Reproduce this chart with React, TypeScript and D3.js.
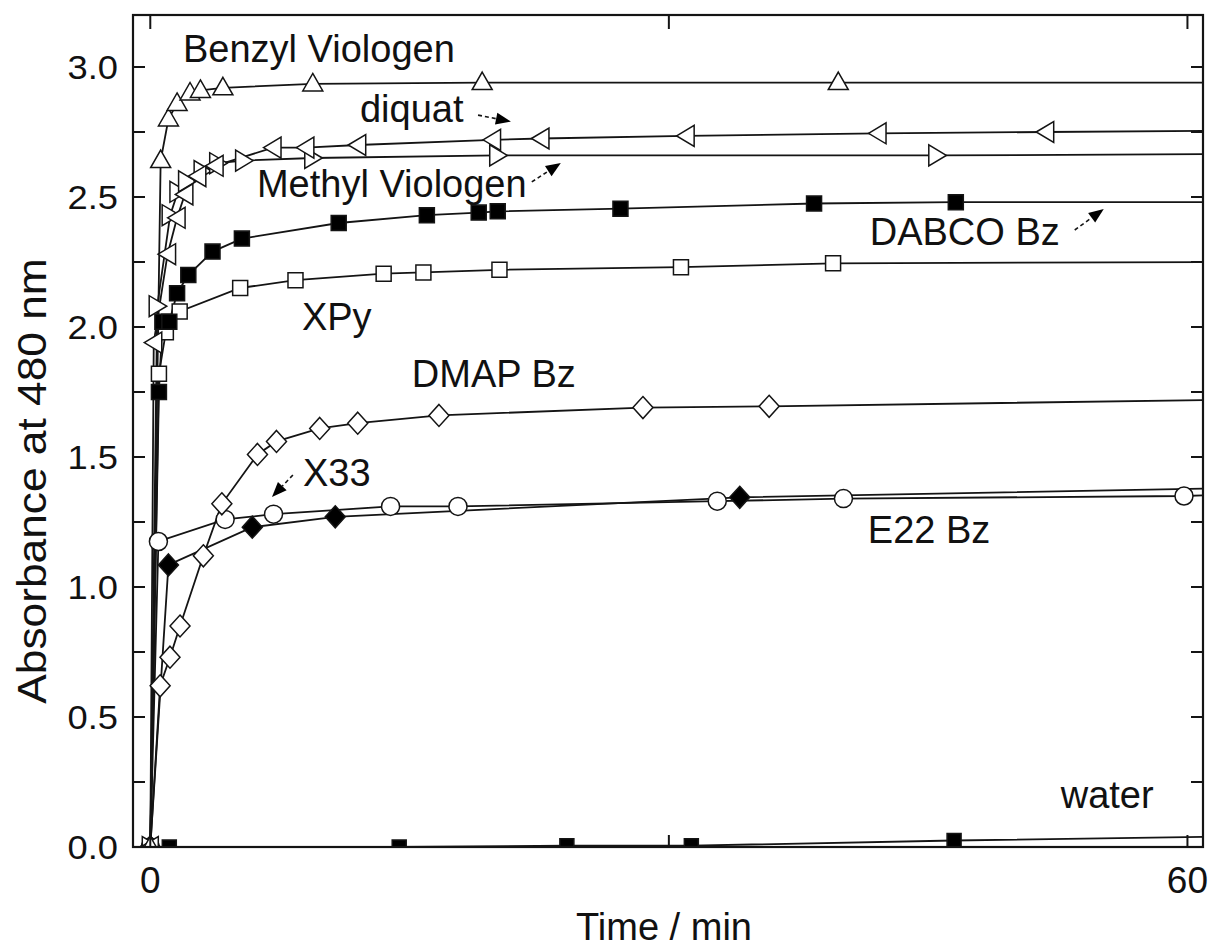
import React from 'react';
import * as d3 from 'd3';

const W = 1221;
const H = 952;

// ---- data (time in min, absorbance at 480 nm) ----
const benzylTime = [0, 0.6, 1.05, 1.55, 2.3, 2.9, 4.2, 9.4, 19.2, 39.8, 62];
const benzylAbs = [0, 2.64, 2.8, 2.86, 2.9, 2.91, 2.92, 2.935, 2.94, 2.94, 2.94];

const diquatTime = [0, 0.2, 1.0, 1.55, 2.0, 2.75, 3.75, 7.1, 9.0, 12.0, 19.8, 22.6, 31.0, 42.1, 51.8, 62];
const diquatAbs = [0, 1.94, 2.28, 2.42, 2.51, 2.58, 2.62, 2.69, 2.69, 2.7, 2.72, 2.725, 2.735, 2.745, 2.75, 2.755];

const methylTime = [0, 0.4, 1.15, 1.6, 2.1, 3.0, 3.9, 5.4, 9.4, 20.1, 45.5, 62];
const methylAbs = [0, 2.08, 2.43, 2.52, 2.56, 2.6, 2.63, 2.64, 2.65, 2.66, 2.66, 2.665];

const dabcoTime = [0, 0.5, 0.7, 1.1, 1.55, 2.2, 3.6, 5.3, 10.9, 16.0, 19.0, 20.1, 27.2, 38.4, 46.6, 62];
const dabcoAbs = [0, 1.75, 2.02, 2.02, 2.13, 2.2, 2.29, 2.34, 2.4, 2.43, 2.44, 2.445, 2.455, 2.475, 2.48, 2.48];

const xpyTime = [0, 0.5, 0.9, 1.7, 5.2, 8.4, 13.5, 15.8, 20.2, 30.7, 39.5, 62];
const xpyAbs = [0, 1.82, 1.98, 2.06, 2.15, 2.18, 2.205, 2.21, 2.22, 2.23, 2.245, 2.25];

const dmapTime = [0, 0.57, 1.14, 1.72, 3.07, 4.14, 6.2, 7.3, 9.8, 12.0, 16.7, 28.5, 35.8, 62];
const dmapAbs = [0, 0.62, 0.73, 0.85, 1.12, 1.32, 1.51, 1.56, 1.61, 1.63, 1.66, 1.69, 1.695, 1.72];

const x33Time = [0, 1.05, 5.9, 10.7, 34.1, 62];
const x33Abs = [0, 1.085, 1.23, 1.27, 1.345, 1.38];

const e22Time = [0, 0.47, 4.33, 7.13, 13.9, 17.8, 32.8, 40.1, 59.8, 62];
const e22Abs = [0, 1.175, 1.26, 1.28, 1.31, 1.31, 1.33, 1.34, 1.35, 1.355];

const waterTime = [0, 1.1, 14.4, 24.1, 31.3, 46.5, 62];
const waterAbs = [0, 0, 0, 0.005, 0.005, 0.025, 0.04];

// ---- axes ----
const yMajorTicks = [0, 0.5, 1.0, 1.5, 2.0, 2.5, 3.0];
const yTickLabels = ['0.0', '0.5', '1.0', '1.5', '2.0', '2.5', '3.0'];
const yMinorTicks = [0.25, 0.75, 1.25, 1.75, 2.25, 2.75];
const xTicks = [0, 30, 60];
const xTickLabels = ['0', '', '60'];
const xTitle = 'Time / min';
const yTitle = 'Absorbance at 480 nm';

// ---- annotations (data coordinates) ----
const labelTexts = ['Benzyl Viologen', 'diquat', 'Methyl Viologen', 'DABCO Bz', 'XPy', 'DMAP Bz', 'X33', 'E22 Bz', 'water'];
const labelTime = [1.89, 12.13, 6.17, 41.62, 8.77, 15.13, 8.83, 41.51, 52.67];
const labelAbs = [3.02, 2.79, 2.5, 2.315, 1.99, 1.77, 1.39, 1.17, 0.15];

const arrowFromTime = [18.96, 22.07, 53.48, 8.25];
const arrowFromAbs = [2.815, 2.558, 2.373, 1.431];
const arrowToTime = [20.86, 23.75, 55.16, 7.04];
const arrowToAbs = [2.79, 2.631, 2.454, 1.346];

type Marker = 'triUp' | 'triLeft' | 'triRight' | 'square' | 'squareSmall' | 'diamond' | 'circle';

const series: { time: number[]; abs: number[]; marker: Marker; filled: boolean }[] = [
  { time: waterTime, abs: waterAbs, marker: 'squareSmall', filled: true },
  { time: e22Time, abs: e22Abs, marker: 'circle', filled: false },
  { time: x33Time, abs: x33Abs, marker: 'diamond', filled: true },
  { time: dmapTime, abs: dmapAbs, marker: 'diamond', filled: false },
  { time: xpyTime, abs: xpyAbs, marker: 'square', filled: false },
  { time: dabcoTime, abs: dabcoAbs, marker: 'square', filled: true },
  { time: methylTime, abs: methylAbs, marker: 'triRight', filled: false },
  { time: diquatTime, abs: diquatAbs, marker: 'triLeft', filled: false },
  { time: benzylTime, abs: benzylAbs, marker: 'triUp', filled: false },
];

const markerPath = (m: Marker): string => {
  switch (m) {
    case 'triUp':
      return 'M0,-10.5L10,7L-10,7Z';
    case 'triLeft':
      return 'M-9.5,0L8,-10.5L8,10.5Z';
    case 'triRight':
      return 'M9.5,0L-8,-10.5L-8,10.5Z';
    case 'square':
      return 'M-7.5,-7.5H7.5V7.5H-7.5Z';
    case 'squareSmall':
      return 'M-7,-7H7V7H-7Z';
    case 'diamond':
      return 'M0,-11L10,0L0,11L-10,0Z';
    case 'circle':
    default:
      return 'M9,0A9,9 0 1,1 -9,0A9,9 0 1,1 9,0Z';
  }
};

const LEFT = 133;
const RIGHT = 1203;
const TOP = 15;
const BOTTOM = 847;

export default function App() {
  const x = d3.scaleLinear().domain([-1, 60.9]).range([LEFT, RIGHT]);
  const y = d3.scaleLinear().domain([0, 3.2]).range([BOTTOM, TOP]);
  const ink = '#141414';
  const font = '"Liberation Sans", Arial, Helvetica, sans-serif';

  const line = d3
    .line<[number, number]>()
    .x((d) => x(d[0]))
    .y((d) => y(d[1]));

  return (
    <svg
      width={W}
      height={H}
      viewBox={`0 0 ${W} ${H}`}
      style={{ position: 'absolute', left: 0, top: 0, background: '#fff' }}
    >
      <defs>
        <clipPath id="plot">
          <rect x={LEFT} y={TOP} width={RIGHT - LEFT} height={BOTTOM - TOP} />
        </clipPath>
      </defs>
      <rect width={W} height={H} fill="#fff" />

      <g clipPath="url(#plot)">
        {series.map((s, i) => (
          <path
            key={'l' + i}
            d={line(s.time.map((t, j) => [t, s.abs[j]] as [number, number])) || ''}
            fill="none"
            stroke={ink}
            strokeWidth={1.8}
          />
        ))}
        {series.map((s, i) => (
          <g key={'m' + i}>
            {s.time.map((t, j) => (
              <path
                key={j}
                d={markerPath(s.marker)}
                transform={`translate(${x(t)},${y(s.abs[j])})`}
                fill={s.filled ? '#000' : '#fff'}
                stroke={ink}
                strokeWidth={1.5}
              />
            ))}
          </g>
        ))}
      </g>

      {/* frame */}
      <rect x={LEFT} y={TOP} width={RIGHT - LEFT} height={BOTTOM - TOP} fill="none" stroke={ink} strokeWidth={2.2} />

      {/* y ticks */}
      {yMajorTicks.concat(yMinorTicks).map((v, i) => (
        <g key={'yt' + i}>
          <line x1={LEFT} x2={LEFT + 12} y1={y(v)} y2={y(v)} stroke={ink} strokeWidth={2} />
          <line x1={RIGHT} x2={RIGHT - 12} y1={y(v)} y2={y(v)} stroke={ink} strokeWidth={2} />
        </g>
      ))}
      {yMajorTicks.map((v, i) => (
        <text
          key={'yl' + i}
          x={0}
          y={0}
          transform={`translate(118,${y(v) + 12}) scale(1.1,1)`}
          textAnchor="end"
          fontFamily={font}
          fontSize={33}
          fill="#111"
        >
          {yTickLabels[i]}
        </text>
      ))}

      {/* x ticks */}
      {xTicks.map((t, i) => (
        <g key={'xt' + i}>
          <line x1={x(t)} x2={x(t)} y1={BOTTOM} y2={BOTTOM - 12} stroke={ink} strokeWidth={2} />
          <line x1={x(t)} x2={x(t)} y1={TOP} y2={TOP + 14} stroke={ink} strokeWidth={2} />
          <text x={x(t)} y={893} textAnchor="middle" fontFamily={font} fontSize={37} fill="#111">
            {xTickLabels[i]}
          </text>
        </g>
      ))}

      {/* axis titles */}
      <text x={664} y={940} textAnchor="middle" fontFamily={font} fontSize={38} fill="#111">
        {xTitle}
      </text>
      <text
        transform={`translate(46,481) rotate(-90) scale(1.08,1)`}
        textAnchor="middle"
        fontFamily={font}
        fontSize={41}
        fill="#111"
      >
        {yTitle}
      </text>

      {/* annotations */}
      {labelTexts.map((txt, i) => (
        <text key={'lab' + i} x={x(labelTime[i])} y={y(labelAbs[i])} fontFamily={font} fontSize={38} fill="#111">
          {txt}
        </text>
      ))}
      {arrowFromTime.map((t, i) => {
        const x1 = x(t);
        const y1 = y(arrowFromAbs[i]);
        const x2 = x(arrowToTime[i]);
        const y2 = y(arrowToAbs[i]);
        const ang = Math.atan2(y2 - y1, x2 - x1);
        const hl = 15;
        const hw = 6;
        const bx = x2 - hl * Math.cos(ang);
        const by = y2 - hl * Math.sin(ang);
        const px = -Math.sin(ang) * hw;
        const py = Math.cos(ang) * hw;
        return (
          <g key={'ar' + i}>
            <line x1={x1} y1={y1} x2={bx} y2={by} stroke={ink} strokeWidth={1.6} strokeDasharray="4,3" />
            <path d={`M${x2},${y2}L${bx + px},${by + py}L${bx - px},${by - py}Z`} fill="#000" />
          </g>
        );
      })}
    </svg>
  );
}
